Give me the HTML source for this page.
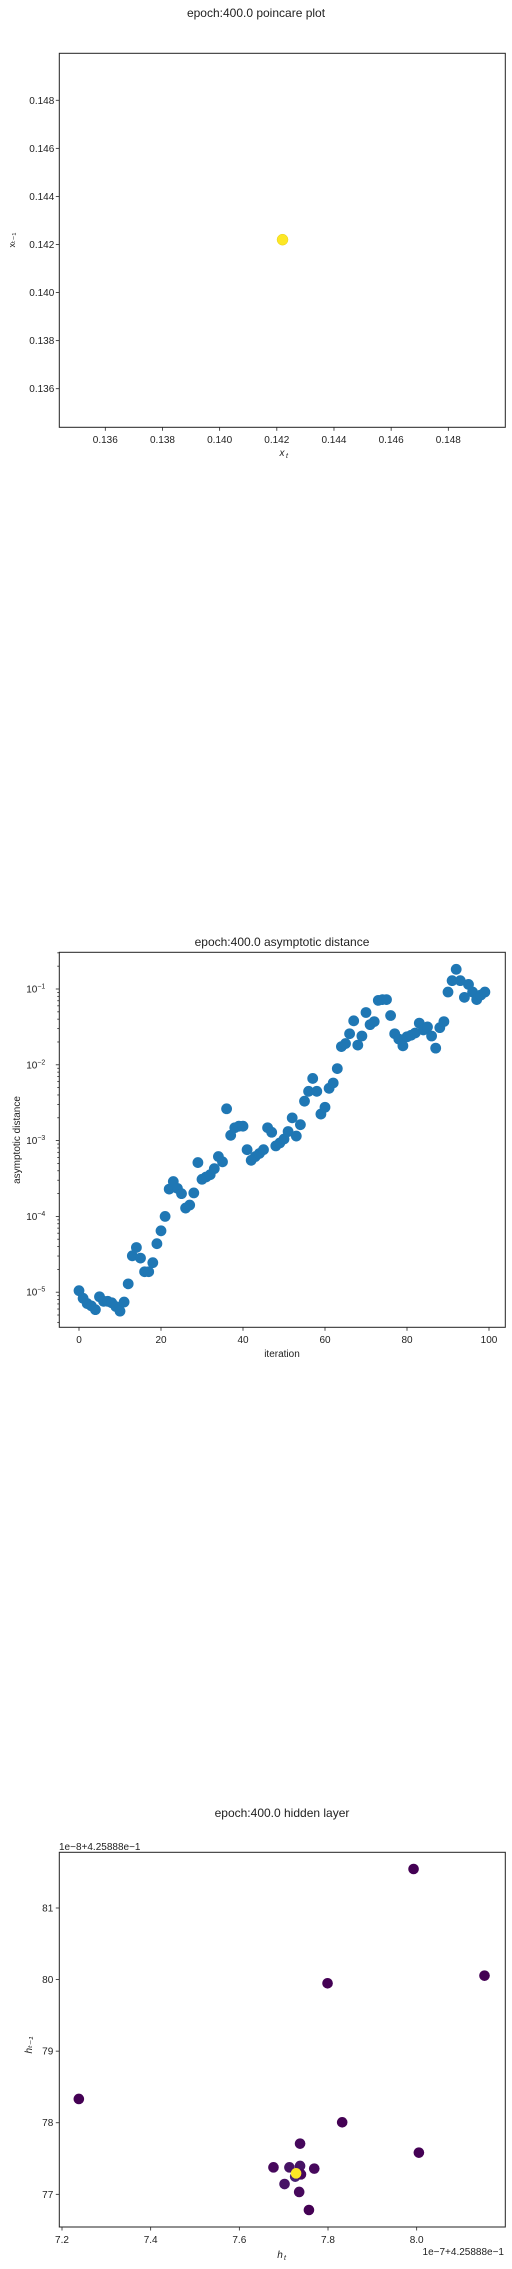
<!DOCTYPE html>
<html><head><meta charset="utf-8"><style>
body{margin:0;background:#fff;}
svg{display:block;font-family:"Liberation Sans","DejaVu Sans",sans-serif;}
</style></head><body>
<svg id="s" width="512" height="2269"></svg>
<script>
// ---- data ----
const poincareX = [0.14220];
const poincareY = [0.14220];
const pTicks = [0.136,0.138,0.140,0.142,0.144,0.146,0.148];
const pTickLabels = ["0.136","0.138","0.140","0.142","0.144","0.146","0.148"];

const distLog10 = [-4.98,-5.08,-5.15,-5.18,-5.23,-5.06,-5.12,-5.12,-5.14,-5.19,
-5.25,-5.13,-4.89,-4.52,-4.41,-4.55,-4.73,-4.73,-4.61,-4.36,
-4.19,-4.00,-3.64,-3.54,-3.63,-3.70,-3.89,-3.85,-3.69,-3.29,
-3.51,-3.48,-3.45,-3.37,-3.21,-3.28,-2.58,-2.93,-2.83,-2.81,
-2.81,-3.12,-3.26,-3.21,-3.17,-3.12,-2.83,-2.89,-3.07,-3.03,
-2.98,-2.88,-2.70,-2.94,-2.79,-2.48,-2.35,-2.18,-2.35,-2.65,
-2.56,-2.31,-2.24,-2.05,-1.76,-1.72,-1.59,-1.42,-1.74,-1.62,
-1.31,-1.47,-1.43,-1.15,-1.14,-1.14,-1.35,-1.59,-1.66,-1.75,
-1.63,-1.61,-1.58,-1.45,-1.54,-1.50,-1.62,-1.78,-1.51,-1.43,
-1.04,-0.89,-0.74,-0.89,-1.11,-0.94,-1.04,-1.14,-1.08,-1.04];
const distXTicks = [0,20,40,60,80,100];
const distYDecades = [-5,-4,-3,-2,-1];

const hidX = [7.993,8.153,7.799,7.238,7.832,8.005,7.737,7.677,7.713,7.737,7.769,7.702,7.726,7.739,7.735,7.757,7.728];
const hidY = [81.545,80.055,79.948,78.332,78.006,77.582,77.708,77.377,77.377,77.396,77.359,77.144,77.247,77.279,77.033,76.781,77.293];
const hidC = ["#440154","#440154","#440154","#440154","#440154","#440154","#46085c","#46085c","#471365","#471365","#46085c","#471365","#482173","#46085c","#46085c","#440154","#fde725"];
const hXTicks = [7.2,7.4,7.6,7.8,8.0];
const hYTicks = [77,78,79,80,81];

const svg = document.getElementById('s');
const NS = 'http://www.w3.org/2000/svg';
function mk(tag, attrs, text){
  const e = document.createElementNS(NS, tag);
  for (const k in attrs) e.setAttribute(k, attrs[k]);
  if (text !== undefined) e.textContent = text;
  svg.appendChild(e); return e;
}
function txt(x,y,s,size,anchor,name,extra){
  const t = mk('text', Object.assign({x:x,y:y,'font-size':size,'text-anchor':anchor||'middle',fill:'#222'}, extra||{}), s);
  
  
  return t;
}
function frame(l,t,r,b,name){
  const f = mk('rect',{x:l,y:t,width:r-l,height:b-t,fill:'none',stroke:'#222','stroke-width':1});
  
  
}
function tick(x1,y1,x2,y2,name){
  const l = mk('line',{x1:x1,y1:y1,x2:x2,y2:y2,stroke:'#222','stroke-width':0.8});
  
  
}

// ---- Plot 1: poincare ----
{
  const L=59.3,T=53.3,R=505.3,B=427.3;
  const sx = v => 105.3 + (v-0.136)/0.002*57.17;
  const sy = v => 388.7 - (v-0.136)/0.002*48.07;
  txt(256,17,"epoch:400.0 poincare plot",12,'middle','poincare-title');
  frame(L,T,R,B,'poincare-axes');
  pTicks.forEach((v,i)=>{
    tick(sx(v),B,sx(v),B+3.5,'x-tick');
    txt(sx(v),443,pTickLabels[i],10,'middle','x-tick-label');
    tick(L-3.5,sy(v),L,sy(v),'y-tick');
    txt(L-5,sy(v)+3.5,pTickLabels[i],10,'end','y-tick-label');
  });
  txt(282,456,"x",10,'middle','x-axis-title',{'font-style':'italic'});
  txt(286,458,"t",7,'start','x-axis-title-sub',{'font-style':'italic'});
  const yl = txt(0,0,"x\u209C\u208B\u2081",9,'middle','y-axis-title',{transform:'translate(15,240) rotate(-90)'});
  poincareX.forEach((v,i)=>{
    const c = mk('circle',{cx:sx(v),cy:sy(poincareY[i]),r:5.5,fill:'#fde725',stroke:'#e6d020','stroke-width':0.5});
    
    
  });
}

// ---- Plot 2: asymptotic distance ----
{
  const L=59.3,T=952.3,R=505.3,B=1327.3;
  const sx = v => 79 + v*4.1;
  const sy = lg => 989 - (lg+1)*75.8;
  txt(282,946,"epoch:400.0 asymptotic distance",12,'middle','distance-title');
  frame(L,T,R,B,'distance-axes');
  distXTicks.forEach(v=>{
    tick(sx(v),B,sx(v),B+3.5,'x-tick');
    txt(sx(v),1343,String(v),10,'middle','x-tick-label');
  });
  for (let d=-6; d<=0; d++){
    for (let m=1; m<10; m++){
      const lg = d + Math.log10(m);
      const y = sy(lg);
      if (y < T || y > B) continue;
      tick(L-(m===1?3.5:2),y,L,y,m===1?'y-major-tick':'y-minor-tick');
    }
  }
  distYDecades.forEach(d=>{
    const t = txt(L-6,sy(d)+3.5,"10",10,'end','y-tick-label');
    const sup = document.createElementNS(NS,'tspan');
    sup.setAttribute('font-size','7'); sup.setAttribute('dy','-4');
    sup.textContent = "\u2212"+(-d);
    t.textContent = "10"; t.appendChild(sup);
    t.setAttribute('x', L-14);
  });
  txt(282,1357,"iteration",10,'middle','x-axis-title');
  txt(0,0,"asymptotic distance",10,'middle','y-axis-title',{transform:'translate(20,1140) rotate(-90)'});
  distLog10.forEach((lg,i)=>{
    const c = mk('circle',{cx:sx(i),cy:sy(lg),r:5.4,fill:'#1f77b4'});
    
    
  });
}

// ---- Plot 3: hidden layer ----
{
  const L=59.3,T=1852.3,R=505.3,B=2227;
  const sx = v => 62 + (v-7.2)/0.2*88.67;
  const sy = v => 1908 + (81-v)*71.58;
  txt(282,1817,"epoch:400.0 hidden layer",12,'middle','hidden-title');
  txt(59,1850,"1e\u22128+4.25888e\u22121",10,'start','y-offset-text');
  frame(L,T,R,B,'hidden-axes');
  hXTicks.forEach(v=>{
    tick(sx(v),B,sx(v),B+3.5,'x-tick');
    txt(sx(v),2243,v.toFixed(1),10,'middle','x-tick-label');
  });
  hYTicks.forEach(v=>{
    tick(L-3.5,sy(v),L,sy(v),'y-tick');
    txt(L-6,sy(v)+3.5,String(v),10,'end','y-tick-label');
  });
  txt(504,2255,"1e\u22127+4.25888e\u22121",10,'end','x-offset-text');
  txt(280,2258,"h",10,'middle','x-axis-title',{'font-style':'italic'});
  txt(284,2260,"t",7,'start','x-axis-title-sub',{'font-style':'italic'});
  txt(0,0,"h\u209C\u208B\u2081",10,'middle','y-axis-title',{transform:'translate(32,2045) rotate(-90)','font-style':'italic'});
  hidX.forEach((v,i)=>{
    const c = mk('circle',{cx:sx(v),cy:sy(hidY[i]),r:5.3,fill:hidC[i]});
    
    
  });
}
</script>
</body></html>
